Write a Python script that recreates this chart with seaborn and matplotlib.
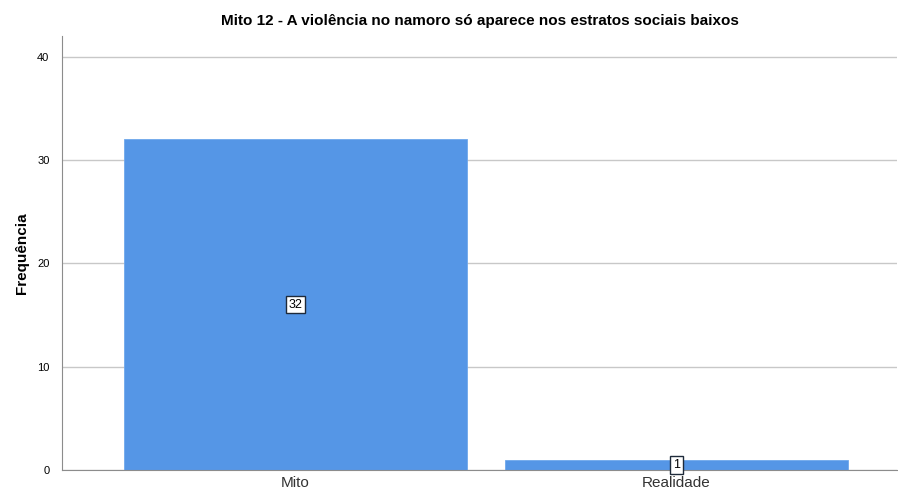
import matplotlib
matplotlib.use("Agg")
import matplotlib.pyplot as plt
import seaborn as sns
import pandas as pd

categories = ["Mito", "Realidade"]
counts = [32, 1]
yticks = [0, 10, 20, 30, 40]
title = "Mito 12 - A violência no namoro só aparece nos estratos sociais baixos"

df = pd.DataFrame({"cat": categories, "freq": counts})

sns.set_style("white")
plt.rcParams["font.family"] = ["Arial", "Liberation Sans", "DejaVu Sans"]
plt.rcParams["text.color"] = "black"
plt.rcParams["xtick.color"] = "black"
plt.rcParams["ytick.color"] = "black"
plt.rcParams["axes.labelcolor"] = "black"

fig = plt.figure(figsize=(8.98, 4.95), dpi=100)
ax = fig.add_axes([62 / 898, 25 / 495, 835 / 898, 434 / 495])

sns.barplot(data=df, x="cat", y="freq", color="#5596E6", saturation=1,
            width=0.9, ax=ax, zorder=2, edgecolor="#6FA8EC", linewidth=0.6)

ax.set_ylim(0, 42)
ax.set_xlim(-0.613, 1.579)
ax.set_yticks(yticks)
ax.yaxis.grid(True, color="#C8C8C8", linewidth=1, zorder=0)
ax.set_axisbelow(True)

for s in ["top", "right"]:
    ax.spines[s].set_visible(False)
ax.spines["left"].set_color("#8C8C8C")
ax.spines["bottom"].set_color("#8C8C8C")

ax.tick_params(axis="y", length=7, color="#C8C8C8", labelsize=8, pad=2)
ax.tick_params(axis="x", length=0, labelsize=11, pad=4, labelcolor="#333333")
ax.set_xlabel("")
ax.set_ylabel("Frequência", fontsize=11, fontweight="bold", labelpad=6)
ax.set_title(title, fontsize=11, fontweight="bold", pad=8)

for i, v in enumerate(counts):
    ax.text(i, v / 2, str(v), ha="center", va="center", fontsize=9,
            bbox=dict(boxstyle="square,pad=0.22", fc="white", ec="#1E2A3A", lw=1),
            zorder=5)

fig.savefig("out.png", dpi=100)
